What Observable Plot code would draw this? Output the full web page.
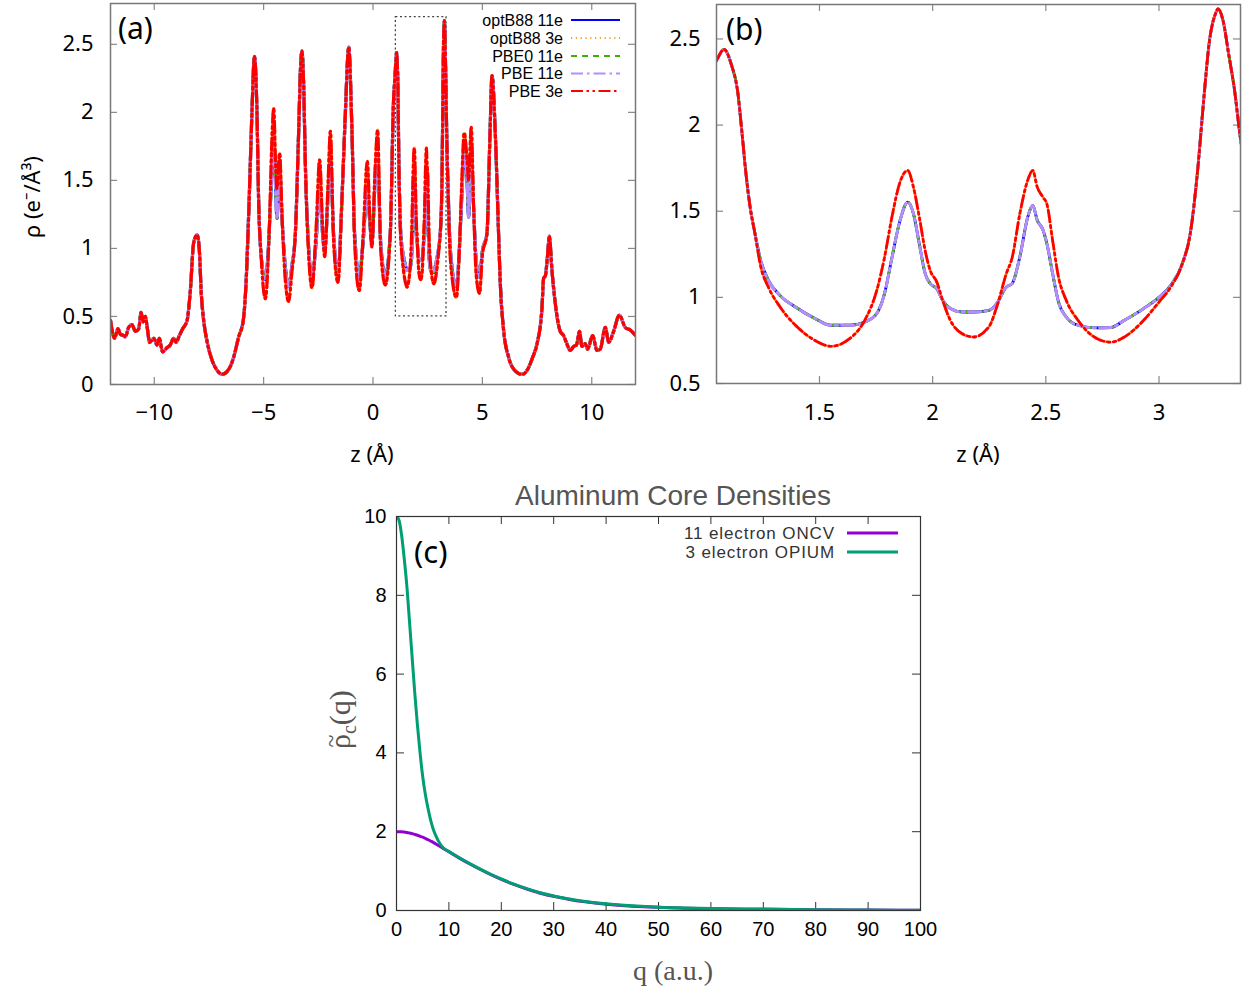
<!DOCTYPE html>
<html><head><meta charset="utf-8">
<script src="https://cdn.jsdelivr.net/npm/d3@7"></script>
<script src="https://cdn.jsdelivr.net/npm/@observablehq/plot@0.6"></script>
<style>
body{margin:0;background:#fff;}
#root{position:relative;width:1248px;height:991px;overflow:hidden;background:#fff;}
.panel{position:absolute;}
</style></head><body><div id="root"></div>
<script>
// ---------- Panel (a)/(b): planar-averaged density profiles ----------
const zA = [-12.00,-11.81,-11.66,-11.55,-11.40,-11.32,-11.17,-11.02,-10.86,-10.71,-10.60,-10.51,-10.41,-10.33,-10.21,-10.02,-9.87,-9.77,-9.62,-9.42,-9.27,-9.11,-9.00,-8.85,-8.70,-8.50,-8.35,-8.20,-8.04,-7.94,-7.85,-7.74,-7.59,-7.36,-7.15,-6.90,-6.70,-6.50,-6.37,-6.14,-5.93,-5.79,-5.64,-5.53,-5.42,-5.30,-5.23,-5.12,-4.92,-4.75,-4.62,-4.54,-4.45,-4.39,-4.27,-4.15,-4.00,-3.86,-3.70,-3.55,-3.40,-3.32,-3.25,-3.17,-3.09,-2.94,-2.79,-2.60,-2.44,-2.30,-2.21,-2.05,-1.95,-1.80,-1.60,-1.42,-1.27,-1.11,-0.96,-0.84,-0.63,-0.45,-0.26,-0.15,-0.05,0.10,0.21,0.35,0.56,0.79,0.94,1.00,1.047,1.078,1.112,1.138,1.158,1.175,1.194,1.215,1.24,1.274,1.326,1.394,1.48,1.55,1.633,1.70,1.753,1.787,1.82,1.856,1.89,1.915,1.941,1.967,1.989,2.018,2.044,2.078,2.129,2.18,2.249,2.283,2.326,2.351,2.385,2.42,2.442,2.462,2.488,2.505,2.53,2.556,2.59,2.642,2.727,2.787,2.847,2.932,3.00,3.052,3.103,3.138,3.172,3.197,3.223,3.249,3.261,3.283,3.308,3.334,3.356,3.42,3.50,3.62,3.81,3.95,4.05,4.17,4.30,4.37,4.49,4.60,4.72,4.87,5.00,5.21,5.35,5.44,5.59,5.74,5.82,5.97,6.20,6.50,6.81,7.10,7.30,7.50,7.72,7.80,7.88,7.98,8.06,8.18,8.33,8.56,8.71,8.86,9.02,9.17,9.30,9.44,9.55,9.70,9.81,10.04,10.24,10.39,10.62,10.77,11.00,11.26,11.53,11.76,12.00];
const rho11e = [0.47,0.34,0.41,0.37,0.36,0.35,0.42,0.44,0.39,0.41,0.53,0.46,0.50,0.43,0.31,0.34,0.29,0.34,0.24,0.27,0.29,0.34,0.31,0.36,0.41,0.47,0.69,1.04,1.10,0.99,0.67,0.47,0.32,0.18,0.11,0.075,0.09,0.14,0.20,0.35,0.47,0.79,1.46,2.02,2.41,1.97,1.36,0.96,0.77,1.10,1.60,1.82,1.45,1.22,1.60,1.20,0.85,0.72,0.88,1.11,1.85,2.30,2.45,2.20,1.60,1.00,0.79,1.05,1.45,1.10,0.98,1.40,1.65,1.10,0.83,1.36,1.97,2.48,1.85,1.11,0.80,1.05,1.45,1.20,1.05,1.50,1.65,1.05,0.80,1.11,2.09,2.25,2.38,2.44,2.345,2.20,1.95,1.72,1.52,1.37,1.215,1.10,1.01,0.944,0.877,0.838,0.838,0.857,0.906,1.02,1.23,1.447,1.553,1.486,1.31,1.138,1.08,1.05,0.983,0.935,0.915,0.915,0.925,0.964,1.06,1.08,1.234,1.466,1.534,1.447,1.39,1.31,1.138,0.973,0.886,0.838,0.823,0.825,0.867,0.935,1.00,1.07,1.196,1.37,1.756,2.14,2.49,2.645,2.674,2.606,2.41,2.20,1.96,1.50,1.10,0.85,0.72,1.00,1.35,1.70,1.50,1.23,1.70,1.30,0.90,0.79,0.98,1.11,1.85,2.27,1.85,1.11,0.74,0.40,0.20,0.10,0.074,0.12,0.20,0.30,0.55,0.78,0.80,0.95,1.09,0.84,0.60,0.39,0.36,0.30,0.25,0.28,0.29,0.39,0.28,0.30,0.26,0.36,0.25,0.26,0.42,0.31,0.39,0.51,0.42,0.40,0.36];
const rho3e = [0.47,0.34,0.41,0.37,0.36,0.35,0.42,0.44,0.39,0.41,0.53,0.46,0.50,0.43,0.31,0.34,0.29,0.34,0.24,0.27,0.29,0.34,0.31,0.36,0.41,0.47,0.69,1.04,1.10,0.99,0.67,0.47,0.32,0.18,0.11,0.075,0.09,0.14,0.20,0.35,0.47,0.79,1.46,2.02,2.41,1.97,1.36,0.96,0.63,1.10,1.80,2.03,1.60,1.44,1.70,1.20,0.75,0.61,0.84,1.11,1.85,2.30,2.45,2.20,1.60,0.95,0.71,1.15,1.65,1.15,0.94,1.50,1.86,1.05,0.75,1.36,1.97,2.48,1.85,1.05,0.69,1.10,1.64,1.25,1.01,1.60,1.87,1.00,0.73,1.11,2.09,2.25,2.38,2.44,2.345,2.20,1.95,1.72,1.52,1.37,1.18,1.06,0.944,0.838,0.75,0.716,0.76,0.867,1.04,1.23,1.466,1.67,1.737,1.64,1.466,1.27,1.157,1.09,0.983,0.867,0.79,0.77,0.83,0.944,1.14,1.23,1.485,1.68,1.737,1.64,1.58,1.54,1.33,1.118,0.983,0.867,0.76,0.74,0.77,0.867,0.973,1.06,1.196,1.37,1.756,2.14,2.49,2.645,2.674,2.606,2.41,2.20,1.96,1.50,1.05,0.78,0.64,1.00,1.45,1.85,1.65,1.50,1.89,1.30,0.80,0.67,0.95,1.11,1.85,2.27,1.85,1.11,0.74,0.40,0.20,0.10,0.074,0.12,0.20,0.30,0.55,0.78,0.80,0.95,1.09,0.84,0.60,0.39,0.36,0.30,0.25,0.28,0.29,0.39,0.28,0.30,0.26,0.36,0.25,0.26,0.42,0.31,0.39,0.51,0.42,0.40,0.36];

const seriesNames  = ["optB88 11e", "optB88 3e", "PBE0 11e", "PBE 11e", "PBE 3e"];
const seriesSource = ["11e", "3e", "11e", "11e", "3e"];
const seriesColors = ["#0000ff", "#ff9d26", "#3caf00", "#b78cff", "#ff0000"];
const seriesDash   = ["none", "1.2,3.6", "6,5", "12,4,2.5,4", "12,3.5,2.5,3.5,2.5,3.5"];

const zoomX = [1.045, 3.36];
const zoomY = [0.5, 2.7];

const xTicksA = [-10, -5, 0, 5, 10];
const yTicksA = [0, 0.5, 1, 1.5, 2, 2.5];
const xTicksB = [1.5, 2, 2.5, 3];
const yTicksB = [0.5, 1, 1.5, 2, 2.5];

// ---------- Panel (c): Aluminum core densities ----------
const qC    = [0,0.5,1,1.5,2,2.5,3,3.5,4,4.5,5,5.5,6,6.5,7,7.5,8,9,10,12,14,16,18,20,22,25,28,30,33,36,40,45,50,55,60,70,80,90,100];
const oncv  = [2.0,2.0,2.0,1.99,1.98,1.965,1.95,1.93,1.91,1.885,1.86,1.83,1.80,1.765,1.73,1.69,1.65,1.57,1.49,1.33,1.18,1.04,0.91,0.79,0.68,0.54,0.42,0.36,0.28,0.22,0.16,0.11,0.08,0.06,0.045,0.03,0.02,0.01,0.005];
const opium = [10.0,9.9,9.5,8.9,8.2,7.3,6.4,5.5,4.7,4.0,3.4,2.95,2.6,2.3,2.07,1.9,1.76,1.58,1.5,1.34,1.19,1.05,0.92,0.80,0.69,0.55,0.43,0.37,0.29,0.23,0.17,0.12,0.085,0.065,0.05,0.035,0.022,0.012,0.006];
const cNames  = ["11 electron ONCV", "3 electron OPIUM"];
const cColors = ["#9400d3", "#009e73"];
const xTicksC = d3.range(0, 101, 10);
const yTicksC = d3.range(0, 11, 2);

// ---------- helpers ----------
const root = document.getElementById("root");
function place(el, left, top) {
  const d = document.createElement("div");
  d.className = "panel"; d.style.left = left + "px"; d.style.top = top + "px";
  d.appendChild(el); root.appendChild(d);
}
function txt(parent, x, y, s, o = {}) {
  const t = d3.select(parent).append("text").attr("x", x).attr("y", y)
    .attr("font-family", o.font || "Noto Sans").attr("font-size", o.size || 22)
    .attr("fill", o.fill || "#000").attr("text-anchor", o.anchor || "start");
  if (o.rotate) t.attr("transform", `rotate(-90 ${x} ${y})`);
  if (s !== null) t.text(s);
  return t;
}
function innerTicks(xt, yt, fw, fh, len, color, sw) {
  return [
    Plot.ruleX(xt, {insetTop: fh - len, stroke: color, strokeWidth: sw}),
    Plot.ruleX(xt, {insetBottom: fh - len, stroke: color, strokeWidth: sw}),
    Plot.ruleY(yt, {insetRight: fw - len, stroke: color, strokeWidth: sw}),
    Plot.ruleY(yt, {insetLeft: fw - len, stroke: color, strokeWidth: sw})
  ];
}
const minus = d => (d < 0 ? "\u2212" + Math.abs(d) : String(d));

const profileRows = seriesNames.map((name, i) =>
  zA.map((z, j) => ({series: name, z, rho: seriesSource[i] === "11e" ? rho11e[j] : rho3e[j]})));

function profileLines(width) {
  return seriesNames.map((name, i) => Plot.line(profileRows[i], {
    x: "z", y: "rho", stroke: seriesColors[i], strokeWidth: width,
    strokeDasharray: seriesDash[i] === "none" ? null : seriesDash[i],
    curve: "monotone-x", clip: true
  }));
}

// ---------- (a) ----------
{
  const W = 640, H = 470, mL = 110, mR = 5, mT = 3, mB = 86;
  const fw = W - mL - mR, fh = H - mT - mB;
  const svg = Plot.plot({
    width: W, height: H, marginLeft: mL, marginRight: mR, marginTop: mT, marginBottom: mB,
    x: {domain: [-12, 12]}, y: {domain: [0, 2.8]},
    style: {fontFamily: "Noto Sans", fontSize: "22px", color: "#000", background: "transparent", overflow: "visible"},
    marks: [
      ...innerTicks(xTicksA, yTicksA, fw, fh, 7, "#888", 1.2),
      Plot.axisX({ticks: xTicksA, tickSize: 0, tickPadding: 20, tickFormat: minus, label: null, fontSize: 22}),
      Plot.axisY({ticks: yTicksA, tickSize: 0, tickPadding: 17, tickFormat: d => String(d), label: null, fontSize: 22}),
      Plot.rect([{x1: zoomX[0], x2: zoomX[1], y1: zoomY[0], y2: zoomY[1]}],
        {x1: "x1", x2: "x2", y1: "y1", y2: "y2", fill: "none", stroke: "#444", strokeWidth: 1.3, strokeDasharray: "2,2.6"}),
      ...profileLines(3.2),
      Plot.frame({stroke: "#777", strokeWidth: 1.5})
    ]
  });
  txt(svg, 118, 39, "(a)", {size: 30});
  txt(svg, 372, 462, "z (Å)", {anchor: "middle", size: 22});
  txt(svg, 40, 197, "ρ (e⁻/Å³)", {anchor: "middle", size: 22, rotate: true});
  // legend
  const rows = [20, 38, 56, 73.5, 91];
  seriesNames.forEach((name, i) => {
    txt(svg, 563, rows[i] + 5.5, name, {anchor: "end", size: 16, font: "Liberation Sans"});
    d3.select(svg).append("line").attr("x1", 571).attr("x2", 620).attr("y1", rows[i]).attr("y2", rows[i])
      .attr("stroke", seriesColors[i]).attr("stroke-width", 2.2)
      .attr("stroke-dasharray", seriesDash[i] === "none" ? null : seriesDash[i]);
  });
  place(svg, 0, 0);
}

// ---------- (b) ----------
{
  const W = 628, H = 470, mL = 96, mR = 8, mT = 4, mB = 87;
  const fw = W - mL - mR, fh = H - mT - mB;
  const svg = Plot.plot({
    width: W, height: H, marginLeft: mL, marginRight: mR, marginTop: mT, marginBottom: mB,
    x: {domain: zoomX}, y: {domain: zoomY},
    style: {fontFamily: "Noto Sans", fontSize: "22px", color: "#000", background: "transparent", overflow: "visible"},
    marks: [
      ...innerTicks(xTicksB, yTicksB, fw, fh, 7, "#888", 1.2),
      Plot.axisX({ticks: xTicksB, tickSize: 0, tickPadding: 21, tickFormat: d => String(d), label: null, fontSize: 22}),
      Plot.axisY({ticks: yTicksB, tickSize: 0, tickPadding: 16, tickFormat: d => String(d), label: null, fontSize: 22}),
      ...profileLines(2.8),
      Plot.frame({stroke: "#777", strokeWidth: 1.5})
    ]
  });
  txt(svg, 106, 40, "(b)", {size: 30});
  txt(svg, 358, 462, "z (Å)", {anchor: "middle", size: 22});
  place(svg, 620, 0);
}

// ---------- (c) ----------
{
  const W = 640, H = 521, mL = 96, mR = 20, mT = 46, mB = 81;
  const fw = W - mL - mR, fh = H - mT - mB;
  const cRows = [qC.map((q, j) => ({q, v: oncv[j]})), qC.map((q, j) => ({q, v: opium[j]}))];
  const svg = Plot.plot({
    width: W, height: H, marginLeft: mL, marginRight: mR, marginTop: mT, marginBottom: mB,
    x: {domain: [0, 100]}, y: {domain: [0, 10]},
    style: {fontFamily: "Liberation Sans", fontSize: "20px", color: "#000", background: "transparent", overflow: "visible"},
    marks: [
      ...innerTicks(xTicksC, yTicksC, fw, fh, 8, "#333", 1),
      Plot.axisX({ticks: xTicksC, tickSize: 0, tickPadding: 11, tickFormat: d => String(d), label: null, fontSize: 20}),
      Plot.axisY({ticks: yTicksC, tickSize: 0, tickPadding: 10, tickFormat: d => String(d), label: null, fontSize: 20}),
      ...cRows.map((r, i) => Plot.line(r, {x: "q", y: "v", stroke: cColors[i], strokeWidth: 3, curve: "monotone-x", clip: true})),
      Plot.frame({stroke: "#333", strokeWidth: 1.2})
    ]
  });
  txt(svg, 373, 35, "Aluminum Core Densities", {anchor: "middle", size: 28, fill: "#555", font: "Liberation Sans"});
  txt(svg, 114, 93, "(c)", {size: 31, font: "Noto Sans"});
  const lrows = [63, 82];
  cNames.forEach((name, i) => {
    txt(svg, 535, lrows[i] + 6, name, {anchor: "end", size: 17, fill: "#333", font: "Liberation Sans"})
      .attr("letter-spacing", 0.9);
    d3.select(svg).append("line").attr("x1", 547).attr("x2", 598).attr("y1", lrows[i]).attr("y2", lrows[i])
      .attr("stroke", cColors[i]).attr("stroke-width", 3);
  });
  txt(svg, 373, 510, "q (a.u.)", {anchor: "middle", size: 28, fill: "#555", font: "Liberation Serif"});
  // rotated y label: tilde-rho with subscript c, then (q)
  const g = d3.select(svg).append("g").attr("transform", "translate(50,245) rotate(-90)");
  const yl = txt(g.node(), -34, 0, null, {size: 30, fill: "#555", font: "Liberation Serif"});
  yl.append("tspan").text("ρ");
  yl.append("tspan").attr("font-size", 20).attr("dy", 6).text("c");
  yl.append("tspan").attr("dy", -6).text("(q)");
  txt(g.node(), -26, -11, "~", {anchor: "middle", size: 24, fill: "#555", font: "Liberation Serif"});
  place(svg, 300, 470);
}
</script></body></html>
